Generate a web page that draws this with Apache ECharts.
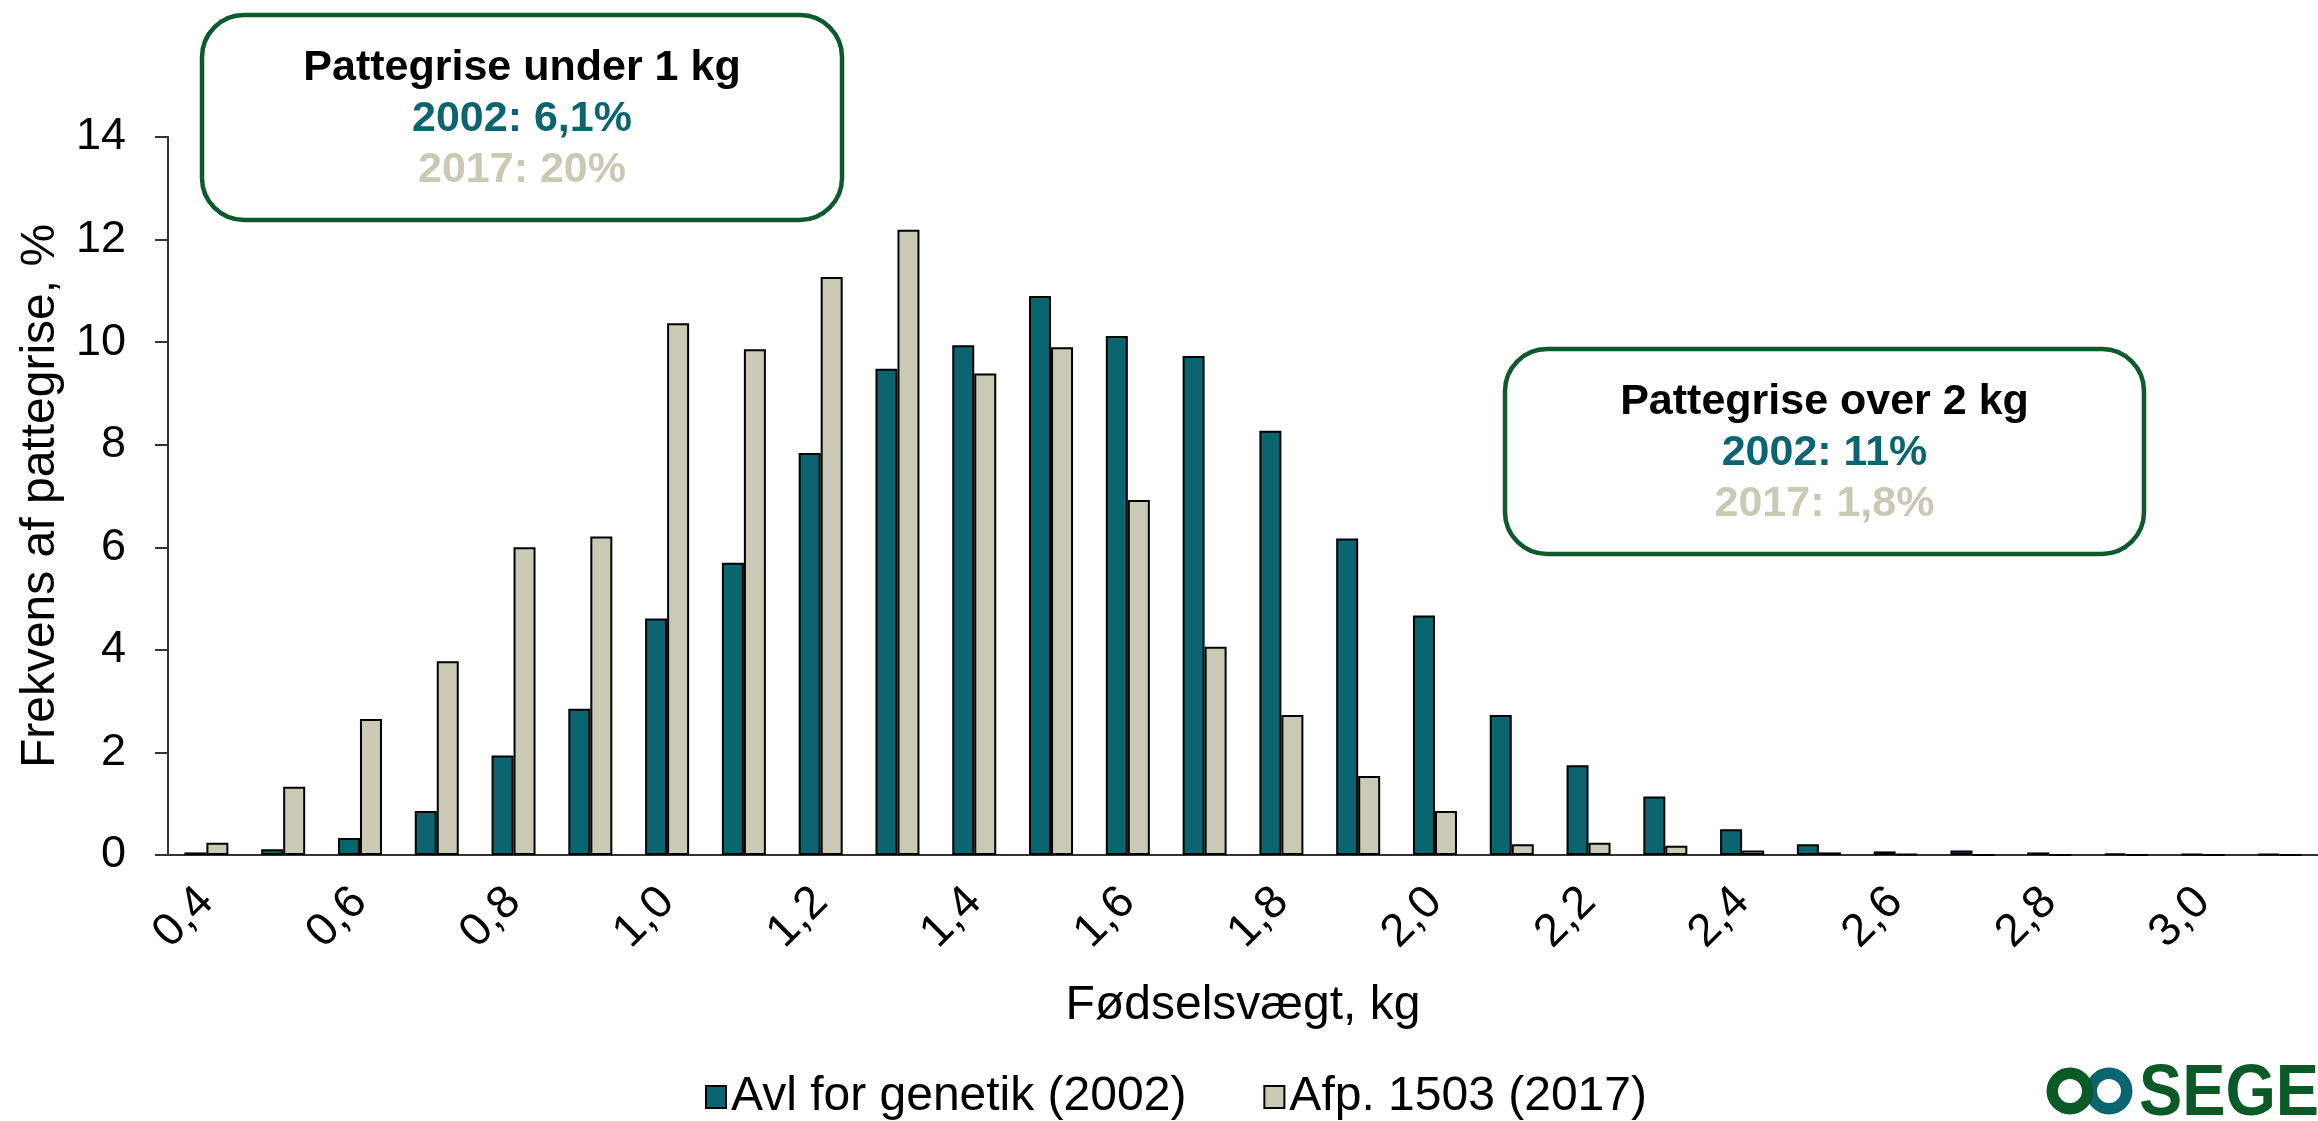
<!DOCTYPE html>
<html>
<head>
<meta charset="utf-8">
<script src="https://cdn.jsdelivr.net/npm/echarts@6/dist/echarts.min.js"></script>
<style>
  html, body { margin: 0; padding: 0; background: #fff; }
  #chart { width: 2318px; height: 1121px; }
</style>
</head>
<body>
<div id="chart"></div>
<script>
// fødselsvægt-kategorier (kg)
var vaegt = ['0,4', '0,5', '0,6', '0,7', '0,8', '0,9', '1,0', '1,1', '1,2', '1,3',
	'1,4', '1,5', '1,6', '1,7', '1,8', '1,9', '2,0', '2,1', '2,2', '2,3',
	'2,4', '2,5', '2,6', '2,7', '2,8', '2,9', '3,0', '3,1'];

// frekvens af pattegrise, %
var avl2002 = [0.05, 0.11, 0.33, 0.86, 1.94, 2.85, 4.61, 5.70, 7.84, 9.48,
	9.94, 10.90, 10.12, 9.73, 8.27, 6.17, 4.67, 2.73, 1.75, 1.14,
	0.50, 0.21, 0.07, 0.09, 0.05, 0.03, 0.02, 0.02];
var afp2017 = [0.24, 1.33, 2.65, 3.78, 6.00, 6.21, 10.37, 9.86, 11.27, 12.19,
	9.39, 9.90, 6.92, 4.06, 2.73, 1.54, 0.86, 0.21, 0.24, 0.18,
	0.09, 0.05, 0.02, 0, 0, 0, 0, 0];

var serieNavne = ['Avl for genetik (2002)', 'Afp. 1503 (2017)'];
var yTicks = [0, 14, 2];   // min, max, interval

var fontFam = '"Liberation Sans", Arial, sans-serif';
var teal = '#0b6571';
var beige = '#c9c9b4';
var groen = '#0d5a2d';

function boks(x, y, w, h, linjer) {
	var els = [{
		type: 'rect',
		shape: { x: x, y: y, width: w, height: h, r: 42 },
		style: { fill: '#fff', stroke: groen, lineWidth: 4.5 },
		z: 10
	}];
	var farver = ['#000', teal, beige];
	for (var i = 0; i < linjer.length; i++) {
		els.push({
			type: 'text',
			x: x + w / 2,
			y: y + 53 + i * 51,
			style: {
				text: linjer[i],
				fill: farver[i],
				font: 'bold 43px ' + fontFam,
				textAlign: 'center',
				textVerticalAlign: 'middle'
			},
			z: 11
		});
	}
	return els;
}

var myChart = echarts.init(document.getElementById('chart'));

var graphics = []
	.concat(boks(202, 15, 640, 205, ['Pattegrise under 1 kg', '2002: 6,1%', '2017: 20%']))
	.concat(boks(1505, 349, 639, 205, ['Pattegrise over 2 kg', '2002: 11%', '2017: 1,8%']));

// SEGES logo (nederst til højre, beskåret)
graphics.push({
	type: 'ring', shape: { cx: 2109, cy: 1091, r: 23.5, r0: 12 },
	style: { fill: '#0b6571' }, z: 10
});
graphics.push({
	type: 'ring', shape: { cx: 2070, cy: 1091, r: 23.5, r0: 12 },
	style: { fill: '#0a5a28' }, z: 10
});
graphics.push({
	type: 'text', x: 2139, y: 1059, scaleX: 0.9,
	style: {
		text: 'SEGES', fill: '#0a5a28',
		font: 'bold 72px ' + fontFam,
		textVerticalAlign: 'top'
	},
	z: 10
});

var option = {
	backgroundColor: '#fff',
	animation: false,
	textStyle: { fontFamily: fontFam },
	grid: { left: 168, top: 137, width: 2162, height: 718 },
	legend: {
		left: 700,
		top: 1068,
		itemWidth: 20,
		itemHeight: 22,
		itemGap: 77,
		icon: 'rect',
		textStyle: { fontSize: 48, color: '#000', fontFamily: fontFam },
		data: serieNavne
	},
	xAxis: {
		type: 'category',
		data: vaegt,
		name: 'Fødselsvægt, kg',
		nameLocation: 'middle',
		nameGap: 127,
		nameTextStyle: { fontSize: 48, color: '#000', fontFamily: fontFam },
		axisLine: { lineStyle: { color: '#333', width: 2 } },
		axisTick: { show: false },
		axisLabel: {
			interval: 1,
			rotate: 45,
			margin: 40,
			fontSize: 46,
			color: '#000',
			fontFamily: fontFam
		}
	},
	yAxis: {
		type: 'value',
		min: yTicks[0],
		max: yTicks[1],
		interval: yTicks[2],
		name: 'Frekvens af pattegrise, %',
		nameLocation: 'middle',
		nameRotate: 90,
		nameGap: 103,
		nameTextStyle: { fontSize: 48, color: '#000', fontFamily: fontFam },
		axisLine: { show: true, lineStyle: { color: '#333', width: 2 } },
		axisTick: { show: true, length: 13, lineStyle: { color: '#333', width: 2 } },
		splitLine: { show: false },
		axisLabel: { margin: 42, fontSize: 45, color: '#000', fontFamily: fontFam }
	},
	series: [{
		name: serieNavne[0],
		type: 'bar',
		data: avl2002,
		barWidth: 22,
		barGap: '0%',
		itemStyle: { color: teal, borderColor: '#000', borderWidth: 2 }
	}, {
		name: serieNavne[1],
		type: 'bar',
		data: afp2017,
		barWidth: 22,
		itemStyle: { color: beige, borderColor: '#000', borderWidth: 2 }
	}],
	graphic: graphics
};

myChart.setOption(option);
</script>
</body>
</html>
